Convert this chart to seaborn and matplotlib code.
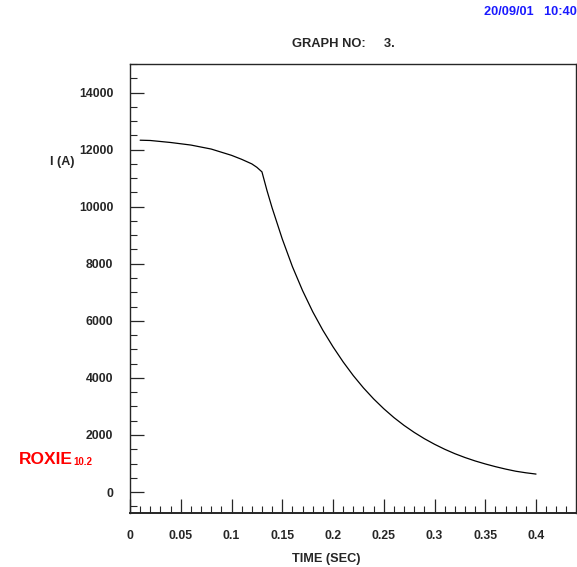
import numpy as np
import pandas as pd
import seaborn as sns
import matplotlib.pyplot as plt
from matplotlib.ticker import MultipleLocator

# Current decay
time_s = [0.01, 0.02, 0.04, 0.06, 0.08, 0.10, 0.11, 0.12, 0.125, 0.13,
          0.135, 0.14, 0.15, 0.16, 0.17, 0.18, 0.19, 0.20, 0.21, 0.22,
          0.23, 0.24, 0.25, 0.26, 0.27, 0.28, 0.29, 0.30, 0.31, 0.32,
          0.33, 0.34, 0.35, 0.36, 0.37, 0.38, 0.39, 0.40]
current_a = [12330, 12320, 12250, 12160, 12020, 11800, 11660, 11500, 11380, 11220,
             10560, 9960, 8870, 7900, 7060, 6320, 5670, 5090, 4560, 4080,
             3650, 3265, 2920, 2610, 2335, 2090, 1870, 1675, 1500, 1345,
             1210, 1090, 985, 890, 805, 730, 675, 630]
x_ticks = [0, 0.05, 0.1, 0.15, 0.2, 0.25, 0.3, 0.35, 0.4]
x_tick_labels = ["0", "0.05", "0.1", "0.15", "0.2", "0.25", "0.3", "0.35", "0.4"]
y_ticks = [0, 2000, 4000, 6000, 8000, 10000, 12000, 14000]

data = pd.DataFrame({"t": time_s, "I": current_a})

sns.set_style("ticks")
plt.rcParams['font.family'] = ['Liberation Sans', 'DejaVu Sans']

fig = plt.figure(figsize=(5.77, 5.67), dpi=100)
ax = fig.add_axes([0.2253, 0.0952, 0.7730, 0.7919])

sns.lineplot(data=data, x="t", y="I", ax=ax, color="black", linewidth=0.9)

ax.set_xlim(0, 0.4394)
ax.set_ylim(-735, 15000)
ax.set_xticks(x_ticks)
ax.set_xticklabels(x_tick_labels)
ax.set_yticks(y_ticks)
ax.set_yticklabels([str(v) for v in y_ticks])
ax.xaxis.set_minor_locator(MultipleLocator(0.01))
ax.yaxis.set_minor_locator(MultipleLocator(500))
ax.tick_params(which="major", direction="in", length=10, width=0.9,
               labelsize=8.8, pad=12.5)
ax.tick_params(which="minor", direction="in", length=5, width=0.8)
ax.tick_params(axis="y", pad=12)
for lab in ax.get_xticklabels() + ax.get_yticklabels():
    lab.set_fontweight("bold")
for sp in ax.spines.values():
    sp.set_visible(True)
    sp.set_linewidth(1.0)
ax.spines["bottom"].set_linewidth(1.4)
ax.set_xlabel("")
ax.set_ylabel("")

fig.text(0.595, 0.922, "GRAPH NO:     3.", ha="center", va="center",
         fontsize=9.3, fontweight="bold")
fig.text(0.839, 0.978, "20/09/01   10:40", ha="left", va="center",
         fontsize=9.2, fontweight="bold", color="#1a1aff")
fig.text(0.087, 0.714, "I (A)", ha="left", va="center",
         fontsize=9, fontweight="bold")
fig.text(0.565, 0.014, "TIME (SEC)", ha="center", va="center",
         fontsize=9.2, fontweight="bold")
fig.text(0.033, 0.189, "ROXIE", ha="left", va="center",
         fontsize=12.5, fontweight="bold", color="red")
fig.text(0.127, 0.185, "10.2", ha="left", va="center",
         fontsize=7, fontweight="bold", color="red")

fig.savefig("out.png", dpi=100)
